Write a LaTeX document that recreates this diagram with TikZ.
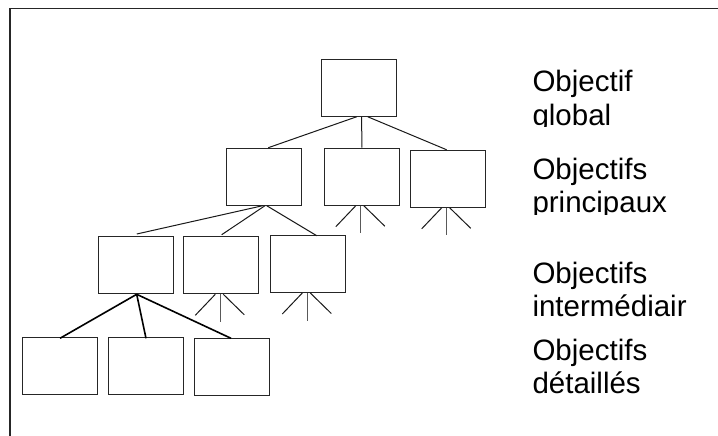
\documentclass[tikz,border=0pt]{standalone}
\usepackage{fontspec}
\setmainfont{Liberation Sans}
\usetikzlibrary{calc}
\newcommand\myfan[1]{%
  \draw[link] ($(#1.south)+(-6,0)$) -- ++(-20,21);
  \draw[link, draw=black!65] ($(#1.south)+(-1,0)$) -- ++(0,27.5);
  \draw[link] ($(#1.south)+(2,0)$) -- ++(21,20.5);}
\begin{document}
\begin{tikzpicture}[x=1pt,y=-1pt,
  box/.style={draw=black!85, line width=1pt, minimum width=75pt, minimum height=57pt, inner sep=0pt},
  link/.style={line width=1pt, draw=black!90},
  boldlink/.style={line width=1.6pt, draw=black},
  lbl/.style={anchor=base west, inner sep=0pt, font=\fontsize{29.5}{35}\selectfont}]
\useasboundingbox (0,0) rectangle (718,436);
\fill[white] (0,0) rectangle (718,436);
\draw[line width=1.2pt, black!85] (718,8.5) -- (10,8.5) -- (10,436);
% level 1
\node[box] (t) at (359,87.75) {};
% level 2
\node[box] (A) at (264,176.7) {};
\node[box] (B) at (361.8,176.7) {};
\node[box] (C) at (447.7,178.8) {};
% level 3
\node[box] (D) at (135.8,265.3) {};
\node[box] (E) at (221.3,265.3) {};
\node[box] (F) at (308.3,264) {};
% level 4
\node[box] (G) at (59.8,366.3) {};
\node[box] (H) at (146.2,366.3) {};
\node[box] (I) at (231.8,367.3) {};
% connectors
\draw[link] ($(t.south)+(-2.3,0)$) -- ($(A.north)+(4.3,0)$);
\draw[link] ($(t.south)+(2.7,0)$) -- (B.north);
\draw[link] ($(t.south)+(8.7,0)$) -- ($(C.north)+(-1,0)$);
\draw[link] ($(A.south)+(-1.3,0)$) -- ($(D.north)+(1,-2.3)$);
\draw[link] ($(A.south)+(1,0)$) -- ($(E.north)+(0.4,-1.6)$);
\draw[link] ($(A.south)+(2.7,0)$) -- ($(F.north)+(8.4,0.7)$);
\draw[boldlink] ($(D.south)+(0.9,0)$) -- ($(G.north)+(0.2,1)$);
\draw[boldlink] ($(D.south)+(0.9,0)$) -- ($(H.north)+(-0.2,1)$);
\draw[boldlink] ($(D.south)+(0.9,0)$) -- ($(I.north)+(-0.8,0)$);
\myfan{B}
\myfan{C}
\myfan{E}
\myfan{F}
% labels
\begin{scope}
\clip (520,55) rectangle (705,126);
\node[lbl] (l1a) at (532.3,91.7) {Objectif};
\node[lbl] (l1b) at (532.3,125.2) {global};
\end{scope}
\begin{scope}
\clip (520,140) rectangle (705,214);
\node[lbl] (l2a) at (532.3,179.3) {Objectifs};
\node[lbl] (l2b) at (532.3,212.8) {principaux};
\end{scope}
\begin{scope}
\clip (520,240) rectangle (686,322);
\node[lbl] (l3a) at (532.3,283.3) {Objectifs};
\node[lbl] (l3b) at (532.3,316.8) {intermédiaires};
\end{scope}
\begin{scope}
\clip (520,330) rectangle (705,395);
\node[lbl] (l4a) at (532.3,360) {Objectifs};
\node[lbl] (l4b) at (532.3,393.5) {détaillés};
\end{scope}
\end{tikzpicture}
\end{document}
